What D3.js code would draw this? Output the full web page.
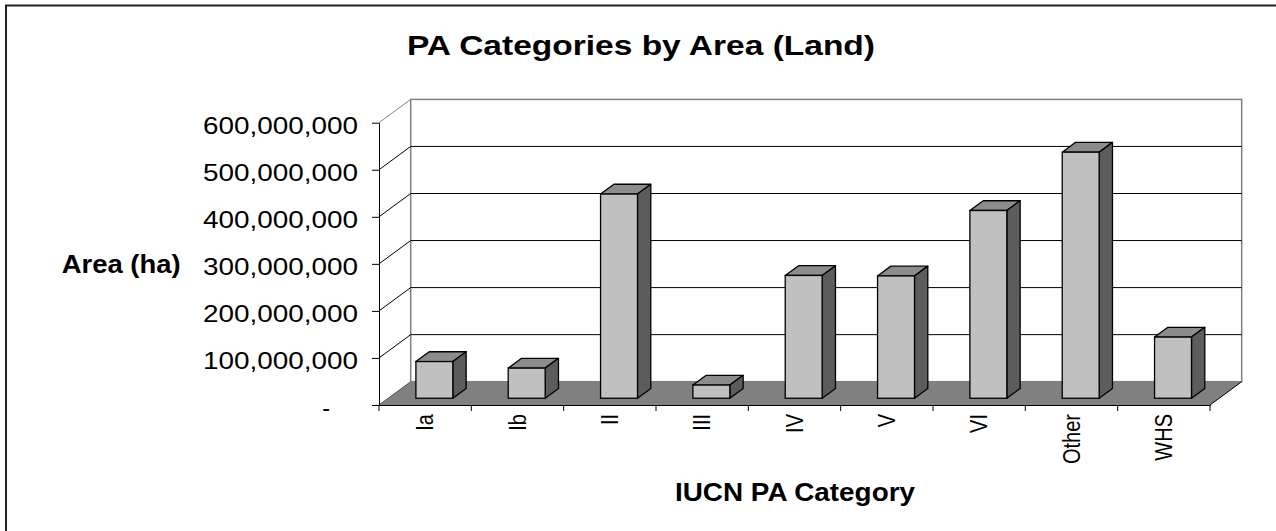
<!DOCTYPE html>
<html lang="en">
<head>
    <meta charset="utf-8">
    <title>PA Categories by Area (Land)</title>
    <script src="https://d3js.org/d3.v7.min.js"></script>
    <style>
        body { margin: 0; background: #fff; }
        text { font-family: Arial, "Liberation Sans", sans-serif; }
    </style>
</head>
<body>
    <svg width="1276" height="531" id="mainsvg"></svg>
    <script>
        // data
        const categories = ['Ia', 'Ib', 'II', 'III', 'IV', 'V', 'VI', 'Other', 'WHS'];
        const areaHa = [78e6, 64e6, 434e6, 28e6, 261e6, 260e6, 399e6, 523e6, 130e6];
        const yTicks = [0, 100e6, 200e6, 300e6, 400e6, 500e6, 600e6];

        const svg = d3.select('#mainsvg');

        // plot box (front plane) and depth offset of the 3d walls
        const plot = { left: 379, right: 1210, top: 122.7, bottom: 405 };
        const depth = { dx: 31.7, dy: 23.3 };
        const barFront = 0.29, barBack = 0.71; // bar position inside the depth

        const x = d3.scaleBand().domain(categories).range([plot.left, plot.right]);
        const y = d3.scaleLinear().domain([0, 600e6]).range([plot.bottom, plot.top]);
        const bw = x.bandwidth() / 2.5;

        // outer border
        svg.append('rect')
            .attr('x', 6).attr('y', 5.5)
            .attr('width', 1400).attr('height', 800)
            .attr('fill', 'none').attr('stroke', '#222').attr('stroke-width', 2);

        // title
        svg.append('text')
            .attr('x', 641).attr('y', 54.5)
            .attr('text-anchor', 'middle')
            .attr('font-size', 28).attr('font-weight', 'bold')
            .attr('textLength', 468).attr('lengthAdjust', 'spacingAndGlyphs')
            .text('PA Categories by Area (Land)');

        const g = svg.append('g');

        // back wall
        g.append('rect')
            .attr('x', plot.left + depth.dx).attr('y', plot.top - depth.dy)
            .attr('width', plot.right - plot.left)
            .attr('height', plot.bottom - plot.top)
            .attr('fill', '#fff').attr('stroke', '#808080').attr('stroke-width', 1.5);

        // gridlines on back wall + diagonals on the side
        const inner = yTicks.filter(d => d > 0 && d < 600e6);
        g.selectAll('.grid').data(inner).enter().append('line')
            .attr('class', 'grid')
            .attr('x1', plot.left + depth.dx).attr('x2', plot.right + depth.dx)
            .attr('y1', d => y(d) - depth.dy).attr('y2', d => y(d) - depth.dy)
            .attr('stroke', '#000').attr('stroke-width', 1);
        g.selectAll('.diag').data(yTicks.filter(d => d > 0)).enter().append('line')
            .attr('class', 'diag')
            .attr('x1', plot.left).attr('x2', plot.left + depth.dx)
            .attr('y1', d => y(d)).attr('y2', d => y(d) - depth.dy)
            .attr('stroke', d => d === 600e6 ? '#808080' : '#000').attr('stroke-width', 1);

        // floor
        const fy0 = y(0);
        g.append('path')
            .attr('d', `M${plot.left},${fy0}L${plot.right},${fy0}L${plot.right + depth.dx},${fy0 - depth.dy}L${plot.left + depth.dx},${fy0 - depth.dy}Z`)
            .attr('fill', '#808080');
        g.append('line')
            .attr('x1', plot.left).attr('y1', fy0)
            .attr('x2', plot.left + depth.dx).attr('y2', fy0 - depth.dy)
            .attr('stroke', '#555').attr('stroke-width', 1);
        g.append('line')
            .attr('x1', plot.right).attr('y1', fy0)
            .attr('x2', plot.right + depth.dx).attr('y2', fy0 - depth.dy)
            .attr('stroke', '#000').attr('stroke-width', 1);

        // bars
        const ox = barFront * depth.dx, oy = barFront * depth.dy;
        const ddx = (barBack - barFront) * depth.dx, ddy = (barBack - barFront) * depth.dy;
        const bars = g.selectAll('.bar').data(categories).enter().append('g').attr('class', 'bar');
        const bx = d => x(d) + (x.bandwidth() - bw) / 2 + ox;
        const barTop = (d, i) => y(areaHa[i]) - oy;
        const barBot = fy0 - oy;
        bars.append('path') // top face
            .attr('d', (d, i) => `M${bx(d)},${barTop(d, i)}L${bx(d) + bw},${barTop(d, i)}L${bx(d) + bw + ddx},${barTop(d, i) - ddy}L${bx(d) + ddx},${barTop(d, i) - ddy}Z`)
            .attr('fill', '#8c8c8c').attr('stroke', '#000').attr('stroke-width', 1.3).attr('stroke-linejoin', 'round');
        bars.append('path') // side face
            .attr('d', (d, i) => `M${bx(d) + bw},${barTop(d, i)}L${bx(d) + bw + ddx},${barTop(d, i) - ddy}L${bx(d) + bw + ddx},${barBot - ddy}L${bx(d) + bw},${barBot}Z`)
            .attr('fill', '#5c5c5c').attr('stroke', '#000').attr('stroke-width', 1.3).attr('stroke-linejoin', 'round');
        bars.append('rect') // front face
            .attr('x', d => bx(d)).attr('y', (d, i) => barTop(d, i))
            .attr('width', bw).attr('height', (d, i) => barBot - barTop(d, i))
            .attr('fill', '#c0c0c0').attr('stroke', '#000').attr('stroke-width', 1.3);

        // y axis
        const yAxis = d3.axisLeft(y)
            .tickValues(yTicks)
            .tickSize(7).tickSizeOuter(0).tickPadding(14)
            .tickFormat(d => d === 0 ? '-' : d3.format(',')(d));
        const yg = svg.append('g')
            .attr('transform', `translate(${plot.left},0)`)
            .call(yAxis);
        yg.select('.domain').attr('stroke', '#000');
        yg.selectAll('.tick line').attr('stroke', '#000');
        yg.selectAll('.tick text')
            .attr('font-size', 23.5).attr('fill', '#000')
            .attr('font-family', 'Arial, "Liberation Sans", sans-serif')
            .attr('dy', '0.45em')
            .each(function (d) {
                if (d === 0) d3.select(this).attr('x', -49);
                else d3.select(this).attr('textLength', 155).attr('lengthAdjust', 'spacingAndGlyphs');
            });

        // x axis
        const xAxis = d3.axisBottom(x).tickSize(0).tickSizeOuter(0).tickPadding(0);
        const xg = svg.append('g')
            .attr('transform', `translate(0,${fy0})`)
            .call(xAxis);
        xg.select('.domain').attr('stroke', '#000');
        xg.selectAll('.tick text')
            .attr('font-size', 20).attr('fill', '#000')
            .attr('font-family', 'Arial, "Liberation Sans", sans-serif')
            .attr('x', 0).attr('y', 0)
            .attr('dy', '0.35em')
            .attr('text-anchor', 'end')
            .attr('transform', 'translate(0,9) scale(1.15,1) rotate(-90)');
        const bounds = categories.map(d => x(d)).concat([plot.right]);
        xg.selectAll('.btick').data(bounds).enter().append('line')
            .attr('class', 'btick')
            .attr('x1', d => d).attr('x2', d => d)
            .attr('y1', 0).attr('y2', 6)
            .attr('stroke', '#000');

        // axis titles
        svg.append('text')
            .attr('x', 61.7).attr('y', 272.5)
            .attr('font-size', 25).attr('font-weight', 'bold')
            .attr('textLength', 119).attr('lengthAdjust', 'spacingAndGlyphs')
            .text('Area (ha)');
        svg.append('text')
            .attr('x', 675).attr('y', 500.5)
            .attr('font-size', 25).attr('font-weight', 'bold')
            .attr('textLength', 240).attr('lengthAdjust', 'spacingAndGlyphs')
            .text('IUCN PA Category');
    </script>
</body>
</html>
